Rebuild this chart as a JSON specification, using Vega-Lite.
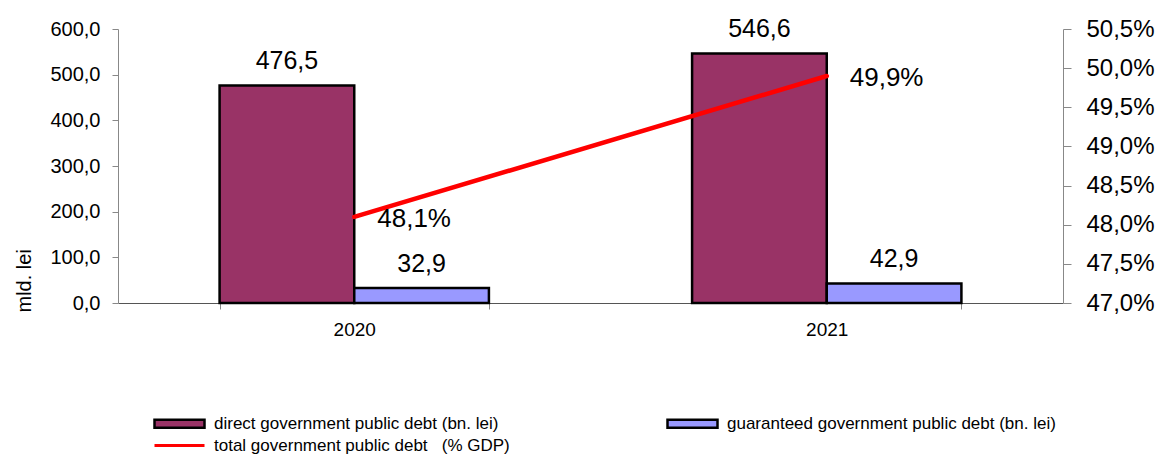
{
  "$schema": "https://vega.github.io/schema/vega-lite/v6.json",
  "width": 945,
  "height": 274,
  "autosize": {"type": "none"},
  "padding": {"left": 118, "top": 29, "right": 104, "bottom": 151},
  "background": "white",
  "config": {
    "locale": {"number": {"decimal": ",", "thousands": ".", "grouping": [3], "currency": ["", " lei"]}},
    "font": "Liberation Sans",
    "view": {"stroke": null},
    "axis": {"grid": false, "labelColor": "#000000", "labelFont": "Liberation Sans", "titleFont": "Liberation Sans", "titleColor": "#000000"},
    "legend": {"labelFont": "Liberation Sans", "labelFontSize": 17, "labelColor": "#000000", "labelLimit": 400, "labelOffset": 23, "symbolSize": 400, "title": null}
  },
  "datasets": {
    "debt": [
      {"year": "2020", "series": "direct government public debt (bn. lei)", "value": 476.5},
      {"year": "2020", "series": "guaranteed government public debt (bn. lei)", "value": 32.9},
      {"year": "2021", "series": "direct government public debt (bn. lei)", "value": 546.6},
      {"year": "2021", "series": "guaranteed government public debt (bn. lei)", "value": 42.9}
    ],
    "gdp": [
      {"year": "2020", "series": "total government public debt   (% GDP)", "pct": 0.481},
      {"year": "2021", "series": "total government public debt   (% GDP)", "pct": 0.499}
    ]
  },
  "encoding": {
    "x": {
      "field": "year",
      "type": "nominal",
      "scale": {"paddingInner": 0.43, "paddingOuter": 0.215},
      "axis": {
        "title": null,
        "labelAngle": 0,
        "labelFontSize": 19,
        "labelPadding": 11,
        "tickBand": "extent",
        "tickSize": 6,
        "domainColor": "#555555",
        "tickColor": "#888888"
      }
    }
  },
  "layer": [
    {
      "layer": [
        {
          "data": {"name": "debt"},
          "mark": {"type": "bar", "stroke": "#000000", "strokeWidth": 2.5},
          "encoding": {
            "xOffset": {
              "field": "series",
              "type": "nominal",
              "scale": {"domain": ["direct government public debt (bn. lei)", "guaranteed government public debt (bn. lei)"], "paddingInner": 0, "paddingOuter": 0}
            },
            "y": {
              "field": "value",
              "type": "quantitative",
              "scale": {"domain": [0, 600], "nice": false},
              "axis": {
                "orient": "left",
                "values": [0, 100, 200, 300, 400, 500, 600],
                "format": ".1f",
                "labelFontSize": 20,
                "labelPadding": 12,
                "labelOverlap": false,
                "tickSize": 6,
                "domainColor": "#888888",
                "tickColor": "#888888",
                "title": "mld. lei",
                "titleFontSize": 20,
                "titleFontWeight": "normal",
                "titleAngle": -90,
                "titleAlign": "left",
                "titleBaseline": "alphabetic",
                "titleX": -88,
                "titleY": 283
              }
            },
            "color": {
              "field": "series",
              "type": "nominal",
              "scale": {
                "domain": ["direct government public debt (bn. lei)", "guaranteed government public debt (bn. lei)"],
                "range": ["#993366", "#9999FF"]
              },
              "legend": {
                "orient": "none",
                "legendX": 50,
                "legendY": 383,
                "direction": "horizontal",
                "columns": 2,
                "columnPadding": 163,
                "symbolType": "M-2.5,-0.4H2.5V0.4H-2.5Z",
                "symbolStrokeColor": "#000000",
                "symbolStrokeWidth": 2.5,
                "symbolOpacity": 1
              }
            }
          }
        },
        {
          "data": {"name": "debt"},
          "mark": {"type": "text", "baseline": "alphabetic", "dy": -16, "fontSize": 25, "color": "#000000", "font": "Liberation Sans"},
          "encoding": {
            "xOffset": {
              "field": "series",
              "type": "nominal",
              "scale": {"domain": ["direct government public debt (bn. lei)", "guaranteed government public debt (bn. lei)"], "paddingInner": 0, "paddingOuter": 0}
            },
            "y": {"field": "value", "type": "quantitative"},
            "text": {"field": "value", "type": "quantitative", "format": ".1f"}
          }
        }
      ]
    },
    {
      "layer": [
        {
          "data": {"name": "gdp"},
          "mark": {"type": "line", "strokeWidth": 4.5, "strokeCap": "round"},
          "encoding": {
            "y": {
              "field": "pct",
              "type": "quantitative",
              "scale": {"domain": [0.47, 0.505], "nice": false, "zero": false},
              "axis": {
                "orient": "right",
                "values": [0.47, 0.475, 0.48, 0.485, 0.49, 0.495, 0.5, 0.505],
                "format": ".1%",
                "labelFontSize": 24,
                "labelPadding": 15,
                "labelOverlap": false,
                "labelFlush": false,
                "tickSize": 8,
                "domainColor": "#888888",
                "tickColor": "#888888",
                "title": null
              }
            },
            "stroke": {
              "field": "series",
              "type": "nominal",
              "scale": {"domain": ["total government public debt   (% GDP)"], "range": ["#FF0000"]},
              "legend": {
                "orient": "none",
                "legendX": 50,
                "legendY": 405,
                "symbolType": "M-2.5,0H2.5",
                "symbolStrokeWidth": 3,
                "symbolOpacity": 1,
                "labelExpr": "replace(datum.label, '   ', '\u00a0\u00a0\u00a0')"
              }
            }
          }
        },
        {
          "data": {"name": "gdp"},
          "mark": {"type": "text", "align": "left", "baseline": "alphabetic", "dx": 23, "dy": 10, "fontSize": 26, "color": "#000000", "font": "Liberation Sans"},
          "encoding": {
            "y": {
              "field": "pct",
              "type": "quantitative",
              "axis": {
                "orient": "right",
                "values": [0.47, 0.475, 0.48, 0.485, 0.49, 0.495, 0.5, 0.505],
                "format": ".1%",
                "labelFontSize": 24,
                "labelPadding": 15,
                "labelOverlap": false,
                "labelFlush": false,
                "tickSize": 8,
                "domainColor": "#888888",
                "tickColor": "#888888",
                "title": null
              }
            },
            "text": {"field": "pct", "type": "quantitative", "format": ".1%"}
          }
        }
      ]
    }
  ],
  "resolve": {"scale": {"y": "independent"}}
}
